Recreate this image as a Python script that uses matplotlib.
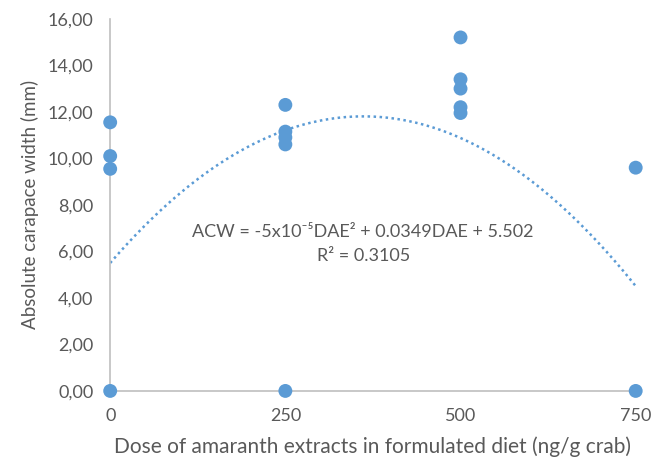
import numpy as np
import matplotlib
matplotlib.use('Agg')
import matplotlib.pyplot as plt
from matplotlib.ticker import FuncFormatter

plt.rcParams['font.family'] = ['Lato', 'DejaVu Sans']

# doses (ng/g crab) and absolute carapace width (mm)
dose = [0, 0, 0, 0,
        250, 250, 250, 250, 250,
        500, 500, 500, 500, 500,
        750, 750]
acw = [11.55, 10.1, 9.55, 0.0,
       12.3, 11.15, 10.9, 10.6, 0.0,
       15.2, 13.4, 13.0, 12.2, 11.95,
       9.6, 0.0]

# quadratic trend line coefficients (a, b, c)
trend = [-4.83e-5, 0.0349, 5.502]
eq_text = 'ACW = -5x10\u207b\u2075DAE\u00b2 + 0.0349DAE + 5.502'
r2_text = 'R\u00b2 = 0.3105'

blue = '#5b9bd5'
grey = '#595959'

fig = plt.figure(figsize=(6.52, 4.71), dpi=100)
ax = fig.add_axes([0.169, 0.170, 0.806, 0.790])

xs = np.linspace(0, 750, 300)
ax.plot(xs, np.polyval(trend, xs), color=blue, linestyle=(0, (1, 1.4)), linewidth=1.8, zorder=2)
ax.scatter(dose, acw, s=100, color=blue, zorder=3, clip_on=False, edgecolors='none')

ax.set_xlim(0, 750)
ax.set_ylim(0, 16)
ax.set_xticks([0, 250, 500, 750])
ax.set_yticks(np.arange(0, 17, 2))
ax.yaxis.set_major_formatter(FuncFormatter(lambda v, p: f'{v:.2f}'.replace('.', ',')))

for s in ['top', 'right']:
    ax.spines[s].set_visible(False)
for s in ['left', 'bottom']:
    ax.spines[s].set_color('#bfbfbf')
    ax.spines[s].set_linewidth(1.2)
ax.tick_params(length=0, labelsize=13, colors=grey, pad=12)
ax.tick_params(axis='x', pad=12)

ax.set_xlabel('Dose of amaranth extracts in formulated diet (ng/g crab)', fontsize=15, color=grey, labelpad=9)
ax.set_ylabel('Absolute carapace width (mm)', fontsize=13.5, color=grey, labelpad=6)

ax.text(361, 6.85, eq_text, ha='center', va='center', fontsize=13, color=grey)
ax.text(361, 5.8, r2_text, ha='center', va='center', fontsize=13, color=grey)

fig.savefig('out.png', dpi=100)
